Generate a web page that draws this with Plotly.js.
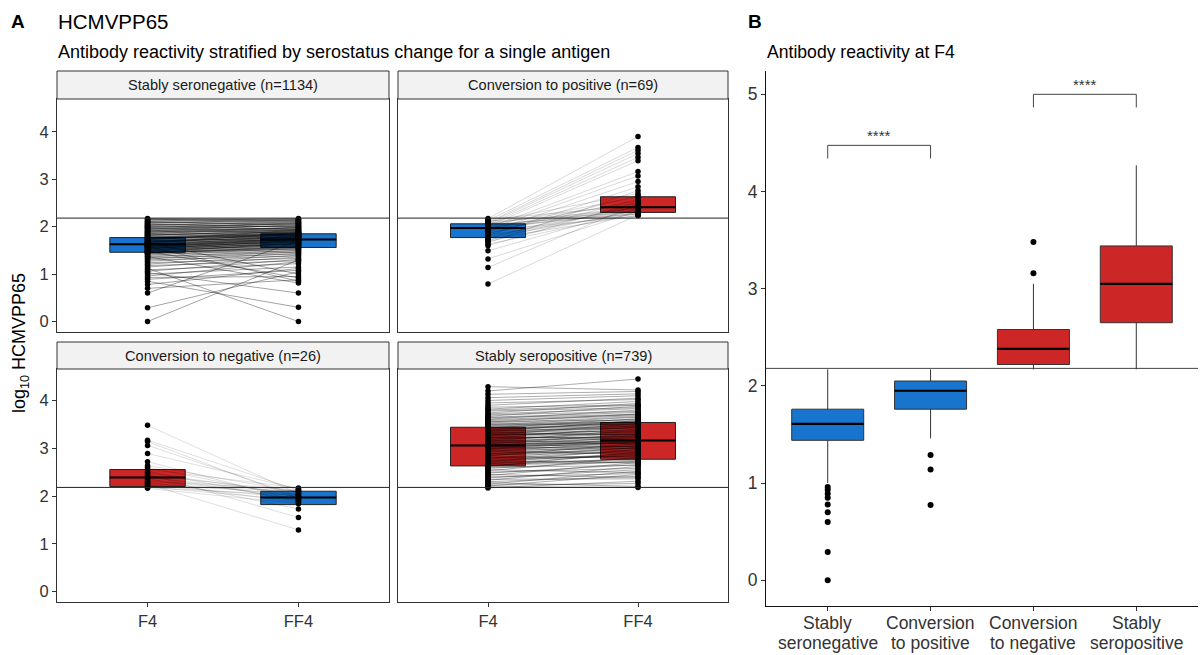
<!DOCTYPE html>
<html><head><meta charset="utf-8">
<script src="https://cdn.plot.ly/plotly-3.0.1.min.js"></script>
<style>html,body{margin:0;padding:0;background:#fff;} #chart{width:1200px;height:655px;}</style>
</head><body><div id="chart"></div>
<script>
// ---------------- DATA ----------------
const timeLabels = ["F4", "FF4"];
const facetTitles = ["Stably seronegative (n=1134)", "Conversion to positive (n=69)", "Conversion to negative (n=26)", "Stably seropositive (n=739)"];
const threshold = 2.18;

// Stably seronegative: paired values (F4 -> FF4)
const snF4  = [2.17,2.15,2.12,2.10,2.08,2.05,2.03,2.00,1.98,1.96,1.94,1.92,1.90,1.88,1.86,1.84,1.82,1.80,1.78,1.76,1.75,1.74,1.73,1.71,1.70,1.69,1.68,1.66,1.65,1.64,1.63,1.62,1.61,1.60,1.59,1.58,1.57,1.56,1.55,1.54,1.53,1.52,1.50,1.49,1.47,1.46,1.45,1.44,1.42,1.40,1.38,1.36,1.34,1.32,1.30,1.27,1.24,1.21,1.18,1.15,1.12,1.09,1.06,1.03,1.00,0.96,0.93,0.89,0.85,0.78,0.70,0.60,0.29,0.00,1.58,1.48,1.66,1.37,
  2.16,2.14,2.11,2.09,2.07,2.04,2.02,2.01,1.99,1.97,1.95,1.93,1.91,1.89,1.87,1.85,1.83,1.81,1.79,1.77,1.76,1.74,1.72,1.70,1.68,1.67,1.65,1.63,1.61,1.60,1.58,1.56,1.55,1.53,1.51,1.50,1.48,1.46,1.45,1.43];
const snFF4 = [2.15,2.12,2.17,2.05,2.14,2.00,2.10,1.95,2.08,1.90,2.02,1.97,1.88,1.99,1.93,1.80,1.91,1.86,1.84,1.82,1.88,1.79,1.85,1.76,1.83,1.78,1.72,1.81,1.74,1.77,1.70,1.75,1.69,1.73,1.66,1.71,1.64,1.68,1.62,1.70,1.59,1.65,1.57,1.61,1.55,1.58,1.52,1.56,1.49,1.54,1.46,1.50,1.42,1.47,1.38,1.44,1.33,1.40,1.28,1.36,0.00,1.22,1.31,0.60,1.15,1.26,0.95,1.08,0.30,1.12,0.88,1.70,1.05,1.30,0.85,0.92,1.00,0.81,
  2.09,2.16,2.03,2.13,1.98,2.11,1.94,2.06,2.01,1.92,2.07,1.87,2.04,1.95,1.83,1.98,1.89,1.94,1.77,1.90,1.81,1.86,1.93,1.75,1.84,1.79,1.88,1.72,1.80,1.67,1.76,1.74,1.63,1.71,1.60,1.68,1.64,1.53,1.66,1.58];
const snQ1 = [1.46, 1.56], snMed = [1.63, 1.73], snQ3 = [1.77, 1.85], snStatus = ["neg", "neg"];

// Conversion to positive
const cpF4  = [2.17,2.15,2.13,2.12,2.10,2.09,2.08,2.07,2.06,2.05,2.04,2.03,2.02,2.01,2.00,1.99,1.98,1.97,1.96,1.95,1.94,1.93,1.91,1.89,1.87,1.85,1.83,1.81,1.79,1.77,1.75,1.73,1.71,1.69,1.66,1.63,1.60,1.49,1.32,1.14,0.79];
const cpFF4 = [3.90,2.45,3.67,2.30,2.70,3.61,2.38,3.54,2.50,2.26,3.46,2.62,2.34,3.39,2.44,2.28,3.16,2.41,2.55,2.32,3.07,2.40,2.23,2.95,2.36,2.66,2.27,2.84,2.42,2.31,2.58,2.24,2.47,2.35,2.76,2.29,2.52,2.39,2.33,2.48,2.25];
const cpQ1 = [1.77, 2.30], cpMed = [1.97, 2.41], cpQ3 = [2.06, 2.63], cpStatus = ["neg", "pos"];

// Conversion to negative
const cnF4  = [3.48,3.17,3.14,3.06,2.89,2.72,2.64,2.60,2.56,2.52,2.49,2.46,2.43,2.41,2.39,2.37,2.34,2.31,2.29,2.27,2.25,2.23,2.21,2.19,2.18,2.16];
const cnFF4 = [2.05,2.12,1.95,2.00,2.15,1.90,2.08,1.97,2.17,1.88,2.02,1.55,2.10,1.93,2.06,1.73,1.99,2.13,1.86,2.03,1.29,1.96,2.11,1.91,2.01,1.84];
const cnQ1 = [2.20, 1.82], cnMed = [2.39, 1.97], cnQ3 = [2.555, 2.10], cnStatus = ["pos", "neg"];

// Stably seropositive
const spF4  = [2.17,2.19,2.21,2.23,2.25,2.28,2.30,2.33,2.35,2.38,2.40,2.43,2.45,2.48,2.50,2.53,2.55,2.58,2.60,2.62,2.65,2.67,2.70,2.72,2.74,2.77,2.79,2.81,2.84,2.86,2.88,2.90,2.93,2.95,2.97,2.99,3.01,3.03,3.04,3.05,3.07,3.09,3.11,3.13,3.15,3.17,3.19,3.21,3.23,3.25,3.27,3.29,3.31,3.33,3.35,3.37,3.39,3.41,3.42,3.43,3.46,3.49,3.52,3.55,3.58,3.61,3.64,3.67,3.70,3.74,3.78,3.82,3.86,3.90,3.95,4.00,4.06,4.13,4.20,4.29,
  2.64,2.68,2.71,2.75,2.78,2.82,2.85,2.89,2.92,2.96,2.98,3.00,3.02,3.06,3.08,3.10,3.12,3.14,3.16,3.18,3.20,3.22,3.24,3.26,3.28,3.30,3.32,3.34,3.36,3.38,3.40,3.44,3.47,3.50,3.53,3.56,3.60,3.65,3.72,3.80];
const spFF4 = [2.31,2.18,2.45,2.26,2.52,2.20,2.41,2.62,2.36,2.55,2.47,2.70,2.39,2.66,2.58,2.81,2.49,2.73,2.64,2.92,2.71,2.88,2.76,2.98,2.69,2.85,3.02,2.83,3.10,2.91,3.05,2.96,3.14,2.87,3.08,3.20,3.00,3.17,3.12,3.24,3.13,3.30,3.09,3.26,3.38,3.18,3.33,3.45,3.22,3.40,3.52,3.29,3.47,3.36,3.58,3.43,3.55,3.49,3.62,3.51,3.57,3.65,3.54,3.72,3.68,3.80,3.71,3.88,3.77,3.94,3.85,3.98,3.91,4.05,4.02,4.10,4.14,4.19,4.45,4.22,
  2.79,2.74,2.90,2.84,2.95,2.80,3.01,2.93,3.06,2.99,3.15,3.04,3.11,3.18,3.03,3.22,3.16,3.27,3.10,3.31,3.25,3.35,3.19,3.39,3.34,3.44,3.28,3.48,3.42,3.53,3.46,3.56,3.61,3.50,3.66,3.59,3.70,3.75,3.83,3.90];
const spQ1 = [2.63, 2.77], spMed = [3.06, 3.16], spQ3 = [3.44, 3.54], spStatus = ["pos", "pos"];

// Panel B: F4 reactivity by group
const groupsB = ["Stably<br>seronegative", "Conversion<br>to positive", "Conversion<br>to negative", "Stably<br>seropositive"];
const bQ1   = [1.44, 1.76, 2.22, 2.65];
const bMed  = [1.61, 1.95, 2.38, 3.05];
const bQ3   = [1.76, 2.05, 2.58, 3.44];
const bLow  = [1.00, 1.46, 2.17, 2.17];
const bHigh = [2.17, 2.17, 3.05, 4.27];
const bStatus = ["neg", "neg", "pos", "pos"];
const bOutlierGroup = [1,1,1,1,1,1,1,1,1,2,2,2,3,3];
const bOutlierVal   = [0.96,0.93,0.89,0.85,0.78,0.70,0.60,0.29,0.00,1.29,1.14,0.775,3.16,3.48];
const sigFrom = [1, 3], sigTo = [2, 4], sigY = [4.475, 5.0], sigLabel = ["****", "****"];

// ---------------- STYLE / LAYOUT ----------------
const FONT = '"Liberation Sans", Arial, sans-serif';
const statusColor = {neg: '#1874CD', pos: '#CD2626'};
const W = 1200, H = 655;
const px = v => v / W, py = v => 1 - v / H;

const facets = [
  {f4: snF4, ff4: snFF4, q1: snQ1, med: snMed, q3: snQ3, st: snStatus, xa: 'x',  ya: 'y',  b: [57, 99, 389, 332],  strip: 71,  left: true,  bottom: false, op: 0.36},
  {f4: cpF4, ff4: cpFF4, q1: cpQ1, med: cpMed, q3: cpQ3, st: cpStatus, xa: 'x2', ya: 'y2', b: [398, 99, 728, 332], strip: 71,  left: false, bottom: false, op: 0.15},
  {f4: cnF4, ff4: cnFF4, q1: cnQ1, med: cnMed, q3: cnQ3, st: cnStatus, xa: 'x3', ya: 'y3', b: [57, 369, 389, 602], strip: 342, left: true,  bottom: true,  op: 0.13},
  {f4: spF4, ff4: spFF4, q1: spQ1, med: spMed, q3: spQ3, st: spStatus, xa: 'x4', ya: 'y4', b: [398, 369, 728, 602], strip: 342, left: false, bottom: true,  op: 0.32}
];

const traces = [];
const shapes = [];
const annotations = [];
const layout = {
  width: W, height: H, margin: {l: 0, r: 0, t: 0, b: 0},
  paper_bgcolor: '#fff', plot_bgcolor: '#fff', showlegend: false,
  font: {family: FONT, color: '#000'}, hovermode: false
};

const boxW = 0.5;
facets.forEach((f, k) => {
  const xs = k === 0 ? '' : String(k + 1);
  const yrange = f.bottom ? [-0.22, 4.66] : [-0.22, 4.69];
  layout['xaxis' + xs] = {
    domain: [px(f.b[0]), px(f.b[2])], anchor: f.ya, range: [0.4, 2.6],
    tickvals: [1, 2], ticktext: timeLabels, showticklabels: f.bottom,
    ticks: f.bottom ? 'outside' : '', ticklen: 4, tickcolor: '#333', tickwidth: 1,
    tickfont: {family: FONT, size: 16.5, color: '#333'},
    showline: true, mirror: true, linecolor: '#333', linewidth: 1,
    showgrid: false, zeroline: false, fixedrange: true
  };
  layout['yaxis' + xs] = {
    domain: [py(f.b[3]), py(f.b[1])], anchor: f.xa, range: yrange,
    tickvals: [0, 1, 2, 3, 4], showticklabels: f.left,
    ticks: f.left ? 'outside' : '', ticklen: 4, tickcolor: '#333', tickwidth: 1,
    tickfont: {family: FONT, size: 16.5, color: '#333'},
    showline: true, mirror: true, linecolor: '#333', linewidth: 1,
    showgrid: false, zeroline: false, fixedrange: true
  };
  // boxes (no whiskers)
  for (let j = 0; j < 2; j++) {
    traces.push({type: 'box', x: [j + 1], q1: [f.q1[j]], median: [f.med[j]], q3: [f.q3[j]],
      lowerfence: [f.q1[j]], upperfence: [f.q3[j]], width: boxW, whiskerwidth: 0,
      fillcolor: statusColor[f.st[j]], line: {color: '#222', width: 1}, boxpoints: false,
      xaxis: f.xa, yaxis: f.ya, hoverinfo: 'skip'});
    traces.push({type: 'scatter', mode: 'lines', x: [j + 1 - boxW / 2, j + 1 + boxW / 2], y: [f.med[j], f.med[j]],
      line: {color: '#000', width: 2}, xaxis: f.xa, yaxis: f.ya, hoverinfo: 'skip'});
  }
  // paired lines
  for (let i = 0; i < f.f4.length; i++) {
    traces.push({type: 'scatter', mode: 'lines', x: [1, 2], y: [f.f4[i], f.ff4[i]],
      line: {color: 'rgba(0,0,0,' + f.op + ')', width: 1}, xaxis: f.xa, yaxis: f.ya, hoverinfo: 'skip'});
  }
  // points
  traces.push({type: 'scatter', mode: 'markers',
    x: f.f4.map(() => 1).concat(f.ff4.map(() => 2)), y: f.f4.concat(f.ff4),
    marker: {color: '#000', size: 5.5}, xaxis: f.xa, yaxis: f.ya, hoverinfo: 'skip'});
  // threshold
  shapes.push({type: 'line', xref: f.xa + ' domain', x0: 0, x1: 1, yref: f.ya, y0: threshold, y1: threshold,
    line: {color: '#222', width: 1}, layer: 'above'});
  // strip
  shapes.push({type: 'rect', xref: 'paper', yref: 'paper', x0: px(f.b[0]), x1: px(f.b[2]), y0: py(f.b[1]), y1: py(f.strip),
    fillcolor: '#F2F2F2', line: {color: '#333', width: 1}, layer: 'above'});
  annotations.push({xref: 'paper', yref: 'paper', x: px((f.b[0] + f.b[2]) / 2), y: py((f.b[1] + f.strip) / 2),
    xanchor: 'center', yanchor: 'middle', showarrow: false, text: facetTitles[k],
    font: {family: FONT, size: 14.6, color: '#1a1a1a'}});
});

// Panel B
const bW = 0.7;
layout.xaxis5 = {
  domain: [px(766), px(1198)], anchor: 'y5', range: [0.4, 4.6],
  tickvals: [1, 2, 3, 4], showticklabels: false, ticks: 'outside', ticklen: 4, tickcolor: '#333',
  showline: true, linecolor: '#111', linewidth: 1, showgrid: false, zeroline: false, fixedrange: true
};
layout.yaxis5 = {
  domain: [py(606), py(71)], anchor: 'x5', range: [-0.265, 5.24],
  tickvals: [0, 1, 2, 3, 4, 5], ticks: 'outside', ticklen: 4, tickcolor: '#333',
  tickfont: {family: FONT, size: 17.5, color: '#333'},
  showline: true, linecolor: '#111', linewidth: 1, showgrid: false, zeroline: false, fixedrange: true
};
for (let g = 0; g < groupsB.length; g++) {
  traces.push({type: 'box', x: [g + 1], q1: [bQ1[g]], median: [bMed[g]], q3: [bQ3[g]],
    lowerfence: [bLow[g]], upperfence: [bHigh[g]], width: bW, whiskerwidth: 0,
    fillcolor: statusColor[bStatus[g]], line: {color: '#333', width: 1}, boxpoints: false,
    xaxis: 'x5', yaxis: 'y5', hoverinfo: 'skip'});
  traces.push({type: 'scatter', mode: 'lines', x: [g + 1 - bW / 2, g + 1 + bW / 2], y: [bMed[g], bMed[g]],
    line: {color: '#000', width: 2.2}, xaxis: 'x5', yaxis: 'y5', hoverinfo: 'skip'});
  // category label, two lines with tight spacing
  groupsB[g].split('<br>').forEach((part, li) => {
    annotations.push({xref: 'x5', yref: 'paper', x: g + 1, y: py(623 + li * 19.5), xanchor: 'center', yanchor: 'middle',
      showarrow: false, text: part, font: {family: FONT, size: 17.5, color: '#333'}});
  });
}
traces.push({type: 'scatter', mode: 'markers', x: bOutlierGroup, y: bOutlierVal,
  marker: {color: '#000', size: 6}, xaxis: 'x5', yaxis: 'y5', hoverinfo: 'skip'});
for (let s = 0; s < sigFrom.length; s++) {
  const leg = 0.135;
  traces.push({type: 'scatter', mode: 'lines', x: [sigFrom[s], sigFrom[s], sigTo[s], sigTo[s]],
    y: [sigY[s] - leg, sigY[s], sigY[s], sigY[s] - leg],
    line: {color: '#444', width: 1}, xaxis: 'x5', yaxis: 'y5', hoverinfo: 'skip'});
  annotations.push({xref: 'x5', yref: 'y5', x: (sigFrom[s] + sigTo[s]) / 2, y: sigY[s] + 0.1,
    xanchor: 'center', yanchor: 'middle', showarrow: false, text: sigLabel[s],
    font: {family: FONT, size: 15, color: '#333'}});
}
shapes.push({type: 'line', xref: 'x5 domain', x0: 0, x1: 1, yref: 'y5', y0: threshold, y1: threshold,
  line: {color: '#444', width: 1}, layer: 'above'});

// titles
const addText = (x, y, text, size, anchor, extra) => annotations.push(Object.assign({
  xref: 'paper', yref: 'paper', x: px(x), y: py(y), xanchor: anchor || 'left', yanchor: 'middle',
  showarrow: false, text: text, font: {family: FONT, size: size, color: '#000'}}, extra || {}));
addText(9, 21, '<b>A</b>', 19);
addText(56, 21, 'HCMVPP65', 20.5);
addText(56, 52, 'Antibody reactivity stratified by serostatus change for a single antigen', 18);
addText(746, 21, '<b>B</b>', 19);
addText(765, 52, 'Antibody reactivity at F4', 17.6);
addText(20, 343, 'log<sub>10</sub> HCMVPP65', 18, 'center', {textangle: -90});

layout.shapes = shapes;
layout.annotations = annotations;
Plotly.newPlot('chart', traces, layout, {staticPlot: true, displayModeBar: false});
</script></body></html>
